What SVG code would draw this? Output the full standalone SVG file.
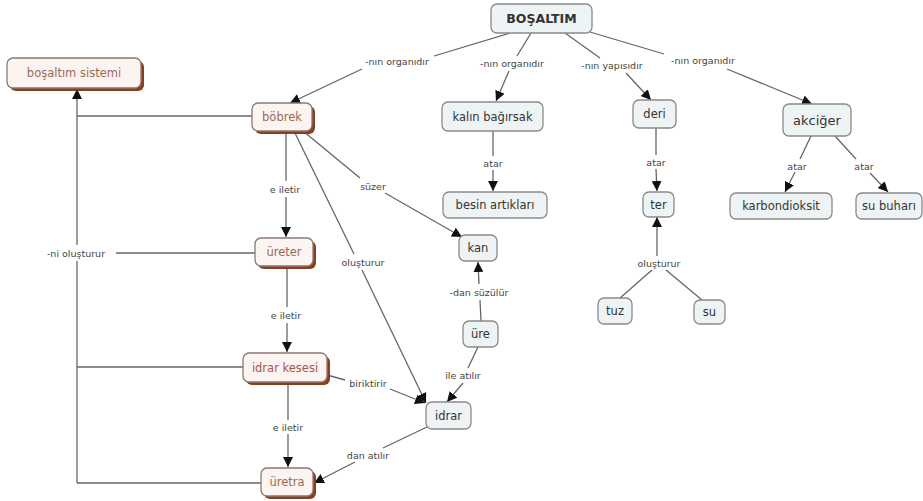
<svg xmlns="http://www.w3.org/2000/svg" width="923" height="501" viewBox="0 0 923 501">
<style>
.bx{fill:#eef3f5;stroke:#8a8a8a;stroke-width:1.3}
.bb{fill:#fbf4f0;stroke:#8a7a72;stroke-width:1.3}
.sh{fill:#8a3e1e}
.t{font-family:"DejaVu Sans",Verdana,sans-serif;font-size:11.5px;fill:#333;text-anchor:middle;dominant-baseline:central}
.tb{font-family:"DejaVu Sans",Verdana,sans-serif;font-size:11.5px;fill:#9a6a58;text-anchor:middle;dominant-baseline:central}
.h{font-family:"DejaVu Sans",Verdana,sans-serif;font-size:12.5px;font-weight:bold;fill:#333;text-anchor:middle;dominant-baseline:central}
.l{font-family:"DejaVu Sans",Verdana,sans-serif;font-size:9.5px;fill:#444;text-anchor:middle;dominant-baseline:central}
#links line{stroke:#666;stroke-width:1.3;fill:none}
.a{marker-end:url(#arr)}
</style>
<defs>
<marker id="arr" markerUnits="userSpaceOnUse" markerWidth="11" markerHeight="10" refX="10" refY="5" orient="auto">
<path d="M0,0 L10,5 L0,10 Z" fill="#111"/>
</marker>
</defs>
<rect width="923" height="501" fill="#fff"/>
<g id="links">
<line x1="510" y1="33" x2="434" y2="56"/><line class="a" x1="362" y1="69" x2="290" y2="103"/>
<line x1="531" y1="33" x2="517" y2="56"/><line class="a" x1="509" y1="71" x2="496" y2="101"/>
<line x1="565" y1="33" x2="600" y2="58"/><line class="a" x1="626" y1="73" x2="651" y2="100"/>
<line x1="590" y1="32" x2="664" y2="54"/><line class="a" x1="727" y1="69" x2="812" y2="104"/>
<line x1="493" y1="131" x2="493" y2="156"/><line class="a" x1="493" y1="170" x2="493" y2="191"/>
<line x1="656" y1="128" x2="656" y2="155"/><line class="a" x1="656" y1="169" x2="657" y2="191"/>
<line x1="811" y1="136" x2="800" y2="159"/><line class="a" x1="795" y1="172" x2="785" y2="192"/>
<line x1="835" y1="136" x2="856" y2="159"/><line class="a" x1="870" y1="173" x2="888" y2="192"/>
<line x1="303" y1="131" x2="360" y2="178"/><line class="a" x1="385" y1="193" x2="462" y2="237"/>
<line x1="286" y1="131" x2="286" y2="181"/><line class="a" x1="286" y1="197" x2="286" y2="237"/>
<line x1="294" y1="131" x2="354" y2="254"/><line class="a" x1="362" y1="270" x2="426" y2="403"/>
<line x1="255" y1="253" x2="116" y2="253"/>
<line class="a" x1="77" y1="245" x2="77" y2="89"/>
<line x1="77" y1="261" x2="77" y2="483"/>
<line x1="252" y1="116" x2="77" y2="116"/>
<line x1="243" y1="367" x2="77" y2="367"/>
<line x1="261" y1="483" x2="77" y2="483"/>
<line x1="287" y1="266" x2="287" y2="307"/><line class="a" x1="287" y1="323" x2="287" y2="352"/>
<line x1="288" y1="382" x2="288" y2="420"/><line class="a" x1="288" y1="434" x2="288" y2="467"/>
<line x1="327" y1="375" x2="345" y2="380"/><line class="a" x1="390" y1="389" x2="425" y2="403"/>
<line x1="481" y1="321" x2="480" y2="300"/><line class="a" x1="479" y1="284" x2="478" y2="262"/>
<line x1="478" y1="347" x2="468" y2="368"/><line class="a" x1="463" y1="383" x2="447" y2="402"/>
<line x1="427" y1="427" x2="383" y2="448"/><line class="a" x1="355" y1="462" x2="314" y2="483"/>
<line x1="620" y1="298" x2="652" y2="270"/><line x1="702" y1="300" x2="666" y2="270"/>
<line class="a" x1="657" y1="256" x2="657" y2="217"/>
</g>
<g id="link-labels">
<text class="l" x="397" y="61">-nın organıdır</text>
<text class="l" x="512" y="63">-nın organıdır</text>
<text class="l" x="612" y="65">-nın yapısıdır</text>
<text class="l" x="703" y="60">-nın organıdır</text>
<text class="l" x="493" y="163">atar</text>
<text class="l" x="656" y="162">atar</text>
<text class="l" x="797" y="166">atar</text>
<text class="l" x="864" y="166">atar</text>
<text class="l" x="373" y="186">süzer</text>
<text class="l" x="285" y="189">e iletir</text>
<text class="l" x="76" y="253">-ni oluşturur</text>
<text class="l" x="363" y="262">oluşturur</text>
<text class="l" x="479" y="292">-dan süzülür</text>
<text class="l" x="659" y="263">oluşturur</text>
<text class="l" x="286" y="315">e iletir</text>
<text class="l" x="463" y="375">ile atılır</text>
<text class="l" x="368" y="383">biriktirir</text>
<text class="l" x="288" y="427">e iletir</text>
<text class="l" x="368" y="455">dan atılır</text>
</g>
<g id="n-bosaltim"><rect class="bx" x="491" y="4" width="101" height="29" rx="6"/><text class="h" x="541.5" y="18.5">BOŞALTIM</text></g>
<g id="n-sistem"><rect class="sh" x="10" y="61" width="134" height="30" rx="6"/><rect class="bb" x="7" y="58" width="134" height="30" rx="6"/><text class="tb" x="74" y="73">boşaltım sistemi</text></g>
<g id="n-bobrek"><rect class="sh" x="255" y="106" width="60" height="28" rx="6"/><rect class="bb" x="252" y="103" width="60" height="28" rx="6"/><text class="tb" x="282" y="117">böbrek</text></g>
<g id="n-ureter"><rect class="sh" x="258" y="241" width="58" height="28" rx="6"/><rect class="bb" x="255" y="238" width="58" height="28" rx="6"/><text class="tb" x="284" y="252">üreter</text></g>
<g id="n-idrarkesesi"><rect class="sh" x="246" y="356" width="84" height="29" rx="6"/><rect class="bb" x="243" y="353" width="84" height="29" rx="6"/><text class="tb" x="285" y="367.5" style="fill:#a25a4e">idrar kesesi</text></g>
<g id="n-uretra"><rect class="sh" x="264" y="471" width="52" height="28" rx="6"/><rect class="bb" x="261" y="468" width="52" height="28" rx="6"/><text class="tb" x="287" y="482">üretra</text></g>
<g id="n-kalin"><rect class="bx" x="442" y="102" width="101" height="29" rx="6"/><text class="t" x="492.5" y="116.5">kalın bağırsak</text></g>
<g id="n-besin"><rect class="bx" x="443" y="192" width="104" height="26" rx="6"/><text class="t" x="495" y="205">besin artıkları</text></g>
<g id="n-kan"><rect class="bx" x="459" y="235" width="38" height="26" rx="6"/><text class="t" x="478" y="248">kan</text></g>
<g id="n-ure"><rect class="bx" x="463" y="321" width="35" height="26" rx="6"/><text class="t" x="480.5" y="334">üre</text></g>
<g id="n-idrar"><rect class="bx" x="426" y="402" width="45" height="27" rx="6"/><text class="t" x="448.5" y="415.5">idrar</text></g>
<g id="n-deri"><rect class="bx" x="633" y="100" width="43" height="28" rx="6"/><text class="t" x="654.5" y="114">deri</text></g>
<g id="n-akciger"><rect class="bx" x="783" y="104" width="68" height="32" rx="6"/><text class="t" x="817" y="120" style="font-size:13px">akciğer</text></g>
<g id="n-ter"><rect class="bx" x="643" y="192" width="31" height="25" rx="6"/><text class="t" x="658.5" y="204.5">ter</text></g>
<g id="n-karbon"><rect class="bx" x="730" y="193" width="102" height="26" rx="6"/><text class="t" x="781" y="206">karbondioksit</text></g>
<g id="n-subuhari"><rect class="bx" x="856" y="193" width="66" height="26" rx="6"/><text class="t" x="889" y="206">su buharı</text></g>
<g id="n-tuz"><rect class="bx" x="598" y="298" width="34" height="26" rx="6"/><text class="t" x="615" y="311">tuz</text></g>
<g id="n-su"><rect class="bx" x="694" y="300" width="31" height="24" rx="6"/><text class="t" x="709.5" y="312">su</text></g>
</svg>
